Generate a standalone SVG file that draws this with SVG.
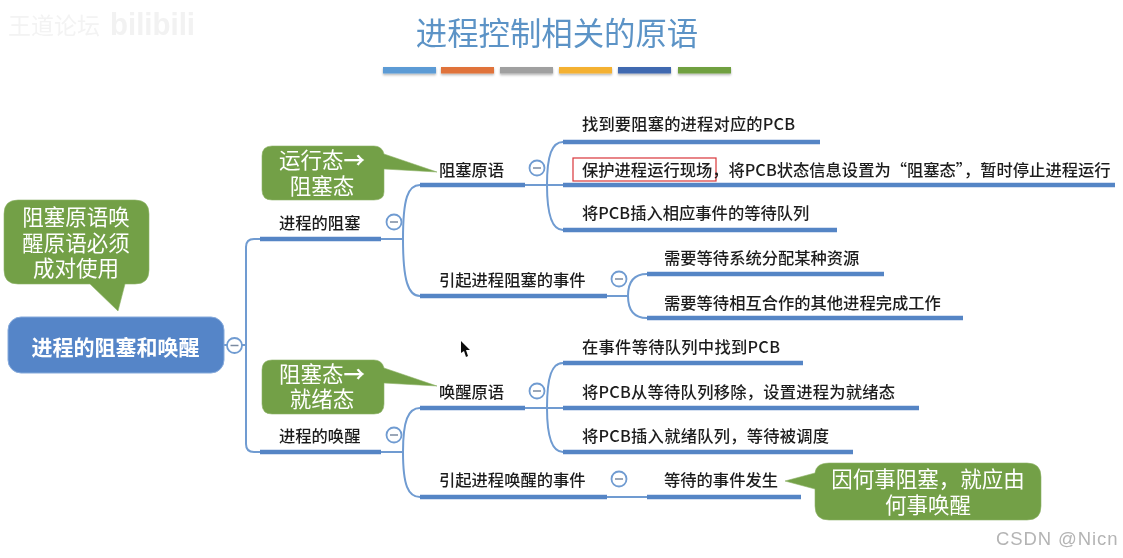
<svg xmlns="http://www.w3.org/2000/svg" width="1123" height="558" viewBox="0 0 1123 558">
<defs>
<filter id="soft" x="-2%" y="-2%" width="104%" height="104%"><feGaussianBlur stdDeviation="0.35"/></filter>
<filter id="shadow" x="-10%" y="-50%" width="120%" height="250%"><feDropShadow dx="0" dy="1.5" stdDeviation="1.2" flood-color="#000" flood-opacity="0.3"/></filter>
</defs>
<style>
text{font-family:"Noto Sans CJK SC","Liberation Sans",sans-serif;}
.t{font-size:16.3px;fill:#1c1c1c;font-weight:500;}
.c{font-size:21.5px;fill:#fff;text-anchor:middle;}
.g{fill:#73a046;stroke:#8fb36a;stroke-width:.6;}
.b{fill:none;stroke:#5585c5;stroke-width:4.5;}
.l{fill:none;stroke:#6f9bd1;stroke-width:2;}
.m circle{fill:#fff;stroke:#6f9bd1;stroke-width:1.8;}
.m line{stroke:#7a8aa0;stroke-width:1.5;}
</style>
<rect width="1123" height="558" fill="#fff"/>
<g filter="url(#soft)">
<g id="watermark">
<text x="8" y="34" font-size="23" fill="#f3f3f3">王道论坛</text>
<text x="110" y="35" font-size="32" font-weight="bold" fill="#f2f2f2" style="font-family:'Liberation Sans',sans-serif" textLength="85" lengthAdjust="spacingAndGlyphs">bilibili</text>
</g>
<g id="title">
<text x="557" y="45" font-size="31.400" fill="#5b93c6" text-anchor="middle">进程控制相关的原语</text>
<g filter="url(#shadow)">
<rect x="383" y="67" width="53" height="6.500" fill="#5b9bd5"/>
<rect x="441" y="67" width="53" height="6.500" fill="#e0733a"/>
<rect x="500" y="67" width="53" height="6.500" fill="#a0a0a0"/>
<rect x="559" y="67" width="53" height="6.500" fill="#f4b132"/>
<rect x="618" y="67" width="53" height="6.500" fill="#4169b0"/>
<rect x="678" y="67" width="53" height="6.500" fill="#70a040"/>
</g>
</g>
<g id="connectors">
<path class="l" d="M224 345H246M260 239H254Q246 239 246 247V444Q246 452 254 452H260"/>
<path class="l" d="M381 239H403M420 185C408 185 403 198 403 239C403 280 408 296 420 296"/>
<path class="l" d="M381 452H403M420 408C408 408 403 421 403 452C403 485 408 497 420 497"/>
<path class="l" d="M525 185H563M563 142C552 142 547 155 547 185C547 215 552 230 563 230"/>
<path class="l" d="M525 408H563M563 363C552 363 547 376 547 408C547 438 552 452 563 452"/>
<path class="l" d="M607 296H628M647 274C635 274 628 280 628 296C628 312 635 318 647 318"/>
<path class="l" d="M607 497H647"/>
<path class="b" d="M260 239H381M260 452H381"/>
<path class="b" d="M420 185H525M420 296H607M420 408H525M420 497H607"/>
<path class="b" d="M563 142H820M563 185H1115M563 230H837M563 363H803M563 408H919M563 452H853"/>
<path class="b" d="M647 274H884M647 318H963M647 497H801"/>
</g>
<g id="root">
<rect x="8" y="317" width="216" height="56" rx="13" fill="#5585c8" stroke="#86aadb"/>
<text x="115.500" y="355" font-size="21" font-weight="bold" fill="#fff" text-anchor="middle">进程的阻塞和唤醒</text>
<g class="m"><circle cx="234.500" cy="345.500" r="7.500"/><line x1="230.500" y1="345.500" x2="238.500" y2="345.500"/></g>
</g>
<g id="n-block"><text class="t" x="279" y="229">进程的阻塞</text>
<g class="m"><circle cx="394" cy="222" r="7.500"/><line x1="390" y1="222" x2="398" y2="222"/></g></g>
<g id="n-wake"><text class="t" x="279" y="442">进程的唤醒</text>
<g class="m"><circle cx="394" cy="435" r="7.500"/><line x1="390" y1="435" x2="398" y2="435"/></g></g>
<g id="n-block-prim"><text class="t" x="439" y="176">阻塞原语</text>
<g class="m"><circle cx="537" cy="168" r="7.500"/><line x1="533" y1="168" x2="541" y2="168"/></g></g>
<g id="n-block-event"><text class="t" x="439" y="286">引起进程阻塞的事件</text>
<g class="m"><circle cx="619" cy="279" r="7.500"/><line x1="615" y1="279" x2="623" y2="279"/></g></g>
<g id="n-wake-prim"><text class="t" x="439" y="398">唤醒原语</text>
<g class="m"><circle cx="537" cy="391" r="7.500"/><line x1="533" y1="391" x2="541" y2="391"/></g></g>
<g id="n-wake-event"><text class="t" x="439" y="486">引起进程唤醒的事件</text>
<g class="m"><circle cx="619" cy="479" r="7.500"/><line x1="615" y1="479" x2="623" y2="479"/></g></g>
<g id="n1"><text class="t" x="582" y="130" textLength="213">找到要阻塞的进程对应的PCB</text></g>
<g id="n2"><rect x="573" y="158" width="143" height="23" fill="none" stroke="#d9363a" stroke-width="1.200"/>
<text class="t" x="582" y="176">保护进程运行现场，将PCB状态信息设置为“阻塞态”，暂时停止进程运行</text></g>
<g id="n3"><text class="t" x="582" y="219">将PCB插入相应事件的等待队列</text></g>
<g id="n4"><text class="t" x="664" y="264">需要等待系统分配某种资源</text></g>
<g id="n5"><text class="t" x="664" y="309">需要等待相互合作的其他进程完成工作</text></g>
<g id="n6"><text class="t" x="582" y="353" textLength="198">在事件等待队列中找到PCB</text></g>
<g id="n7"><text class="t" x="582" y="398" textLength="313">将PCB从等待队列移除，设置进程为就绪态</text></g>
<g id="n8"><text class="t" x="582" y="442" textLength="247">将PCB插入就绪队列，等待被调度</text></g>
<g id="n9"><text class="t" x="664" y="486">等待的事件发生</text></g>
<g id="callout-pair">
<path class="g" d="M18 200H135Q149 200 149 214V270Q149 284 135 284H125L118 311L90 284H18Q4 284 4 270V214Q4 200 18 200Z"/>
<text class="c"><tspan x="76" y="225">阻塞原语唤</tspan><tspan x="76" y="251">醒原语必须</tspan><tspan x="76" y="276">成对使用</tspan></text>
</g>
<g id="callout-run">
<path class="g" d="M272 146H374Q382 146 384 154L437 172L384 169V192Q384 200 374 200H272Q262 200 262 190V156Q262 146 272 146Z"/>
<text class="c"><tspan x="322" y="168">运行态<tspan font-weight="bold">→</tspan></tspan><tspan x="322" y="194">阻塞态</tspan></text>
</g>
<g id="callout-ready">
<path class="g" d="M272 360H374Q382 360 384 368L437 386L384 383V404Q384 414 374 414H272Q262 414 262 404V370Q262 360 272 360Z"/>
<text class="c"><tspan x="322" y="382">阻塞态<tspan font-weight="bold">→</tspan></tspan><tspan x="322" y="407">就绪态</tspan></text>
</g>
<g id="callout-why">
<path class="g" d="M829 463H1027Q1041 463 1041 477V506Q1041 520 1027 520H829Q815 520 815 506V489L785 481L815 473Q816 463 829 463Z"/>
<text class="c"><tspan x="928" y="487">因何事阻塞，就应由</tspan><tspan x="928" y="513">何事唤醒</tspan></text>
</g>
<path id="cursor" d="M461 341V353L464 351L466 357L468 356L466 350L470 350Z" fill="#111"/>
<text id="credit" x="996" y="545" font-size="18.500" fill="#b4b4b4" style="font-family:'Liberation Sans',sans-serif" letter-spacing="0.900">CSDN @Nicn</text>
</g>
</svg>
